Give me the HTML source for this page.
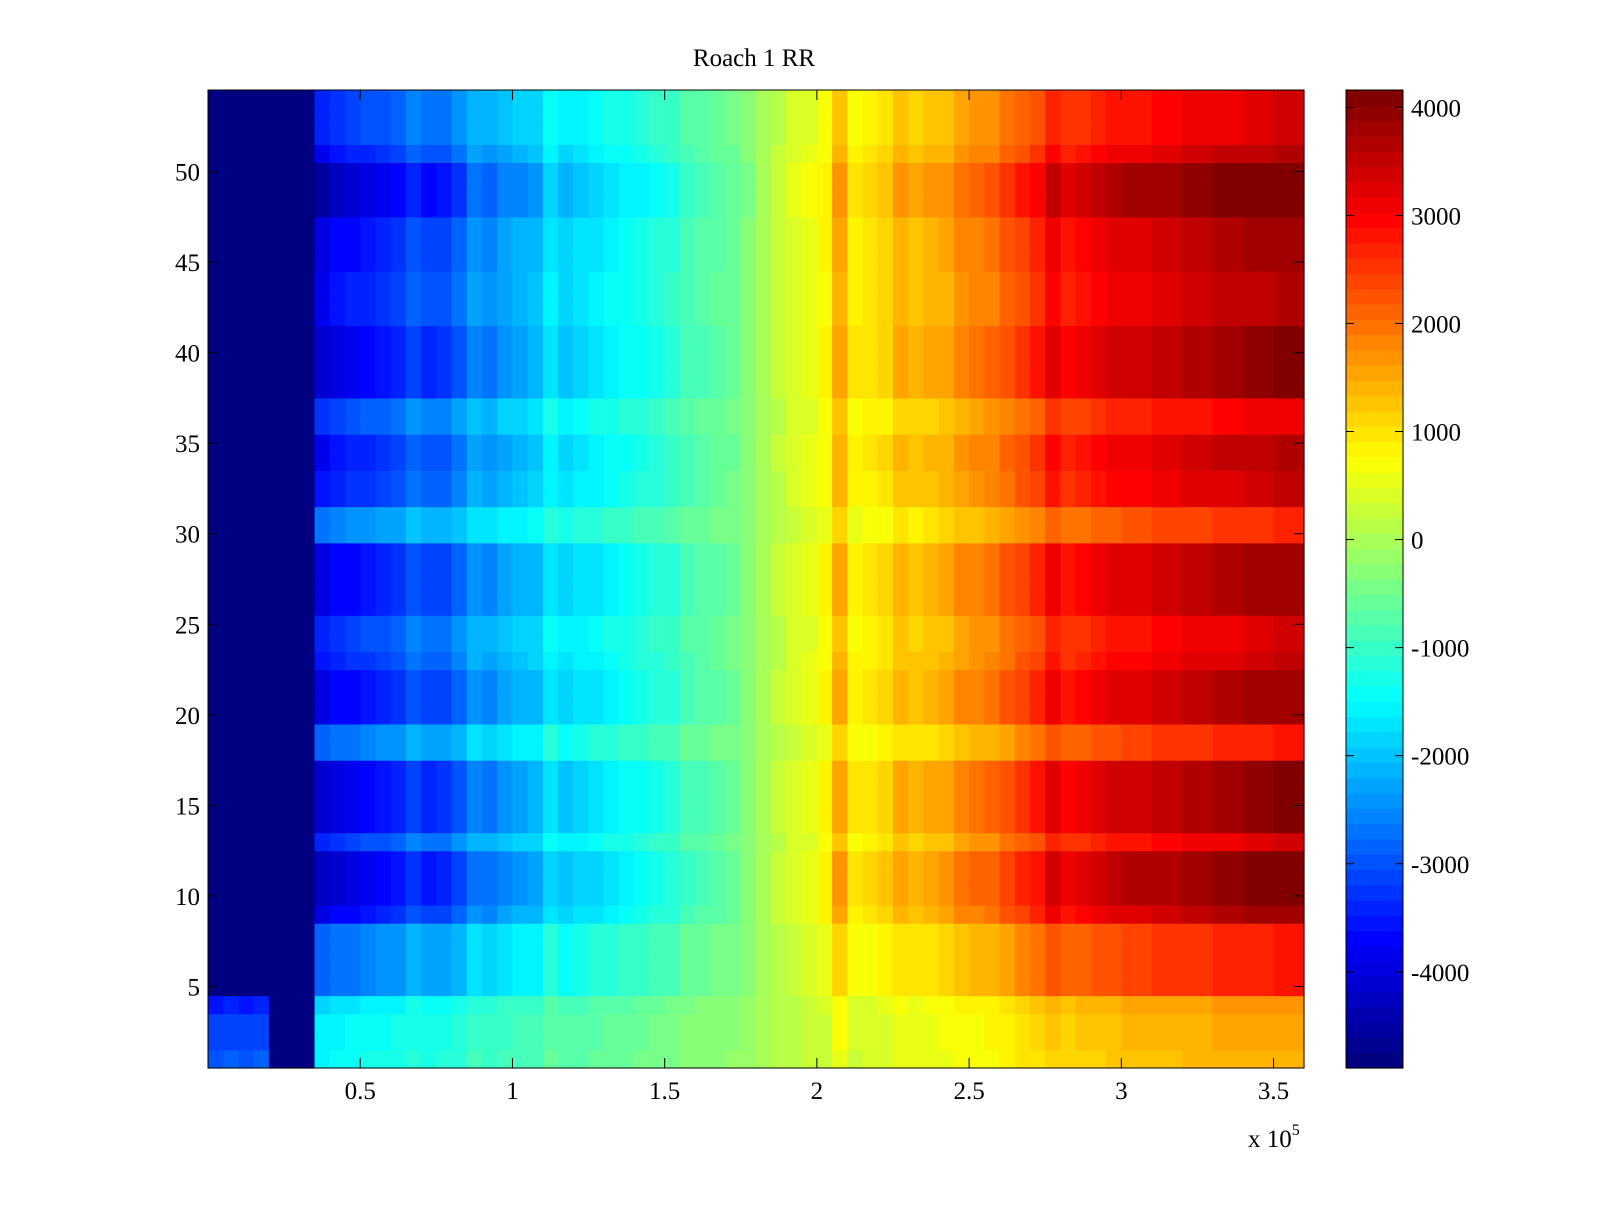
<!DOCTYPE html>
<html><head><meta charset="utf-8"><style>
body{margin:0;background:#fff;}
svg text{font-family:"Liberation Serif",serif;font-size:25px;fill:#000;}
</style></head><body>
<svg id="chart" width="1600" height="1200" xmlns="http://www.w3.org/2000/svg">
<rect width="1600" height="1200" fill="#fff"/>
<text x="754" y="66" text-anchor="middle">Roach 1 RR</text>
<g id="cells"></g>
<g id="cbar"></g>
<g id="axes"></g>
<text x="1248" y="1147">x 10<tspan dy="-12" font-size="16">5</tspan></text>
</svg>
<script>
// column values every 5000 x-units
const colValues=[-7000,-6800,-7000,-6800,-12000,-12000,-12000,-3600,
-3400,-3300,-3200,-3100,-3000,-2700,-2900,-2800,-2600,-2200,-2300,-2100,-2000,-1900,-1500,-1700,-1600,-1500,-1400,-1300,-1200,-1100,-1000,-800,-700,-600,-500,-300,0,200,400,500,700,1400,800,900,1000,1300,1200,1300,1400,1600,1700,1800,2000,2200,2400,2800,2600,2700,2800,2900,3000,3000,3100,3100,3200,3200,3300,3300,3400,3400,3500,3500];
// per-row contrast scale, rows 1..54
const rowScales=[0.42,0.45,0.45,0.5,0.8,0.8,0.8,0.8,1.1,1.2,1.2,1.2,0.95,1.15,1.15,1.15,1.15,0.8,0.8,1.1,1.1,1.1,1.0,0.95,0.95,1.1,1.1,1.1,1.1,0.75,0.75,1.0,1.0,1.05,1.05,0.9,0.9,1.15,1.15,1.15,1.15,1.05,1.05,1.05,1.1,1.1,1.1,1.25,1.25,1.25,1.05,0.95,0.95,0.95];
const xTicks=[0.5,1,1.5,2,2.5,3,3.5];
const xTickLabels=["0.5","1","1.5","2","2.5","3","3.5"];
const yTicks=[5,10,15,20,25,30,35,40,45,50];
const cTicks=[-4000,-3000,-2000,-1000,0,1000,2000,3000,4000];
const colStep=5000, xMin=0, xMax=360000, yMin=0.5, yMax=54.5, cMin=-4890, cMax=4160;
const L=208,R=1304,T=90,B=1068;
const NS="http://www.w3.org/2000/svg";
const sx=v=>L+(v-xMin)/(xMax-xMin)*(R-L);
const sy=v=>B-(v-yMin)/(yMax-yMin)*(B-T);
function jet(t){t=Math.max(0,Math.min(1,t));t=Math.min(63,Math.floor(t*64))/63;
 const f=x=>Math.round(255*Math.max(0,Math.min(1,1.5-Math.abs(4*t-x))));
 return `rgb(${f(3)},${f(2)},${f(1)})`;}
const cn=v=>(v-cMin)/(cMax-cMin);
function mk(tag,attrs,parent){const e=document.createElementNS(NS,tag);for(const k in attrs)e.setAttribute(k,attrs[k]);parent.appendChild(e);return e;}
const cells=document.getElementById('cells');
for(let r=0;r<rowScales.length;r++){for(let c=0;c<colValues.length;c++){
 const x0=sx(c*colStep),x1=sx((c+1)*colStep),y0=sy(r+1.5),y1=sy(r+0.5);
 const e=mk('rect',{x:x0,y:y0,width:x1-x0+0.6,height:y1-y0+0.6,fill:jet(cn(colValues[c]*rowScales[r]))},cells);
 
 
}}
const axes=document.getElementById('axes');
let fr=mk('rect',{x:L,y:T,width:R-L,height:B-T,fill:'none',stroke:'#000','stroke-width':1},axes);


xTicks.forEach((v,i)=>{const x=sx(v*1e5);
 mk('line',{x1:x,x2:x,y1:B,y2:B-10,stroke:'#000'},axes);mk('line',{x1:x,x2:x,y1:T,y2:T+10,stroke:'#000'},axes);
 const t=mk('text',{x:x,y:B+31,'text-anchor':'middle'},axes);t.textContent=xTickLabels[i];
 
 });
yTicks.forEach(v=>{const y=sy(v);
 mk('line',{x1:L,x2:L+10,y1:y,y2:y,stroke:'#000'},axes);mk('line',{x1:R,x2:R-10,y1:y,y2:y,stroke:'#000'},axes);
 const t=mk('text',{x:L-8,y:y+9,'text-anchor':'end'},axes);t.textContent=v;
 
 });
const cb=document.getElementById('cbar');const CL=1346,CR=1403;
const cy=v=>B-(v-cMin)/(cMax-cMin)*(B-T);
for(let i=0;i<64;i++){const y0=B-(i+1)/64*(B-T),y1=B-i/64*(B-T);
 const e=mk('rect',{x:CL,y:y0,width:CR-CL,height:y1-y0+0.6,fill:jet((i+0.5)/64)},cb);
 
 }
mk('rect',{x:CL,y:T,width:CR-CL,height:B-T,fill:'none',stroke:'#000'},cb);
cTicks.forEach(v=>{const y=cy(v);
 mk('line',{x1:CL,x2:CL+8,y1:y,y2:y,stroke:'#000'},cb);mk('line',{x1:CR,x2:CR-8,y1:y,y2:y,stroke:'#000'},cb);
 const t=mk('text',{x:CR+8,y:y+9},cb);t.textContent=v;
 
 });
</script>
</body></html>
